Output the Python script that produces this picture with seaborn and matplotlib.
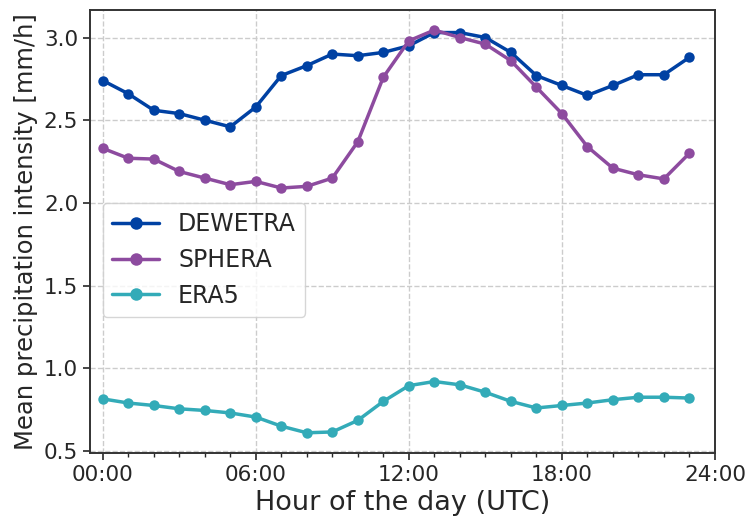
import numpy as np
import pandas as pd
import matplotlib
matplotlib.use('Agg')
import matplotlib.pyplot as plt
from matplotlib.ticker import MultipleLocator, FuncFormatter
import seaborn as sns

hours = list(range(24))
dewetra = [2.74, 2.66, 2.56, 2.54, 2.50, 2.46, 2.58, 2.77, 2.83, 2.90, 2.89, 2.91,
           2.95, 3.03, 3.03, 3.00, 2.91, 2.77, 2.71, 2.65, 2.71, 2.775, 2.775, 2.88]
sphera = [2.33, 2.27, 2.265, 2.19, 2.15, 2.11, 2.13, 2.09, 2.10, 2.15, 2.37, 2.76,
          2.98, 3.045, 3.00, 2.96, 2.86, 2.70, 2.54, 2.34, 2.21, 2.17, 2.145, 2.30]
era5 = [0.815, 0.79, 0.775, 0.755, 0.745, 0.73, 0.705, 0.65, 0.61, 0.615, 0.685, 0.80,
        0.895, 0.92, 0.90, 0.855, 0.80, 0.76, 0.775, 0.79, 0.81, 0.825, 0.825, 0.82]

series = {'DEWETRA': dewetra, 'SPHERA': sphera, 'ERA5': era5}
colores = {'DEWETRA': '#0041a3', 'SPHERA': '#8d4b9f', 'ERA5': '#33abb8'}

sns.set_style('ticks')
fig, ax = plt.subplots(figsize=(7.47, 5.23), dpi=100)

for nome, valores in series.items():
    df = pd.DataFrame({'hora': hours, 'valor': valores})
    sns.lineplot(data=df, x='hora', y='valor', ax=ax, color=colores[nome],
                 marker='o', markersize=7.5, markeredgewidth=0, linewidth=2.5, label=nome)

ax.set_xlim(-0.5, 24)
ax.xaxis.set_major_locator(MultipleLocator(6))
ax.xaxis.set_minor_locator(MultipleLocator(1))
ax.xaxis.set_major_formatter(FuncFormatter(lambda v, p: '%02d:00' % int(v)))
ax.yaxis.set_major_locator(MultipleLocator(0.5))
ax.tick_params(axis='both', which='major', labelsize=15.5, length=5, width=1.2,
               labelcolor='#262626')
ax.tick_params(axis='x', which='minor', length=3, width=1)
ax.grid(True, which='major', linestyle='--', color='#cccccc', linewidth=1)

for s in ax.spines.values():
    s.set_color('#333333')
    s.set_linewidth(1.4)

ax.set_xlabel('Hour of the day (UTC)', fontsize=19.5, color='#262626')
ax.set_ylabel('Mean precipitation intensity [mm/h]', fontsize=17.5, color='#262626')

ax.legend(loc='upper left', bbox_to_anchor=(0.02, 0.565), borderaxespad=0,
          fontsize=17, frameon=True, markerscale=1.2)

fig.subplots_adjust(left=0.1205, right=0.957, top=0.981, bottom=0.134)
fig.savefig('out.png', dpi=100)
